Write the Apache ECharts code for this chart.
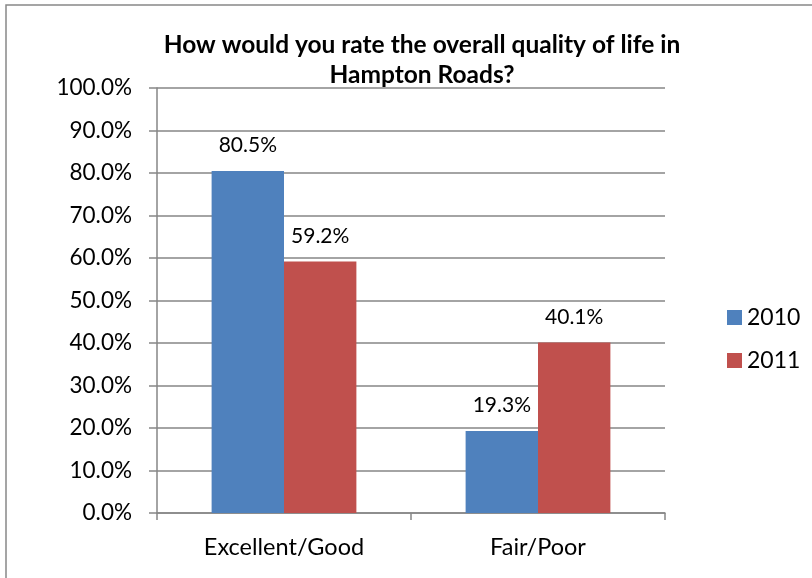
<!DOCTYPE html>
<html><head><meta charset="utf-8">
<script src="https://cdn.jsdelivr.net/npm/echarts@6/dist/echarts.min.js"></script>
<style>html,body{margin:0;padding:0;background:#fff;}#c{width:812px;height:578px;}</style>
</head><body><div id="c"></div>
<script>
const categories = ['Excellent/Good', 'Fair/Poor'];
const seriesNames = ['2010', '2011'];
const values2010 = [80.5, 19.3];
const values2011 = [59.2, 40.1];
const titleText = 'How would you rate the overall quality of life in\nHampton Roads?';

const FONT = 'Lato';
const chart = echarts.init(document.getElementById('c'), null, {renderer: 'canvas'});
const labelStyle = {show: true, position: 'top', distance: 15, color: '#000', fontFamily: FONT, fontSize: 21,
  formatter: p => p.value.toFixed(1) + '%'};
chart.setOption({
  animation: false,
  backgroundColor: '#fff',
  graphic: [{type: 'rect', shape: {x: 6, y: 5, width: 900, height: 700}, style: {fill: 'none', stroke: '#888', lineWidth: 1.5}, silent: true}],
  title: {text: titleText, left: 417, top: 25, textAlign: 'center',
    textStyle: {fontFamily: FONT, fontWeight: 'bold', fontSize: 24.5, lineHeight: 30, color: '#000'}},
  legend: {orient: 'vertical', left: 722, top: 301, itemWidth: 15, itemHeight: 15, itemGap: 20,
    icon: 'rect', data: seriesNames,
    textStyle: {fontFamily: FONT, fontSize: 23, color: '#000'}},
  grid: {left: 157, right: 147, top: 88, bottom: 65, containLabel: false},
  xAxis: {type: 'category', data: categories,
    axisLine: {lineStyle: {color: '#868686', width: 1.5}},
    axisTick: {show: true, length: 7, lineStyle: {color: '#868686', width: 1.5}},
    axisLabel: {fontFamily: FONT, fontSize: 23.5, color: '#000', margin: 22}},
  yAxis: {type: 'value', min: 0, max: 100, interval: 10,
    axisLine: {show: true, lineStyle: {color: '#868686', width: 1.5}},
    axisTick: {show: true, length: 8, lineStyle: {color: '#868686', width: 1.5}},
    splitLine: {lineStyle: {color: '#868686', width: 1.5}},
    axisLabel: {fontFamily: FONT, fontSize: 22.5, color: '#000', margin: 25, formatter: v => v.toFixed(1) + '%'}},
  series: [
    {name: seriesNames[0], type: 'bar', data: values2010, barGap: '0%', barCategoryGap: '43%',
     itemStyle: {color: '#4F81BD'}, label: labelStyle},
    {name: seriesNames[1], type: 'bar', data: values2011, barGap: '0%', barCategoryGap: '43%',
     itemStyle: {color: '#C0504D'}, label: labelStyle}
  ]
});
</script></body></html>
